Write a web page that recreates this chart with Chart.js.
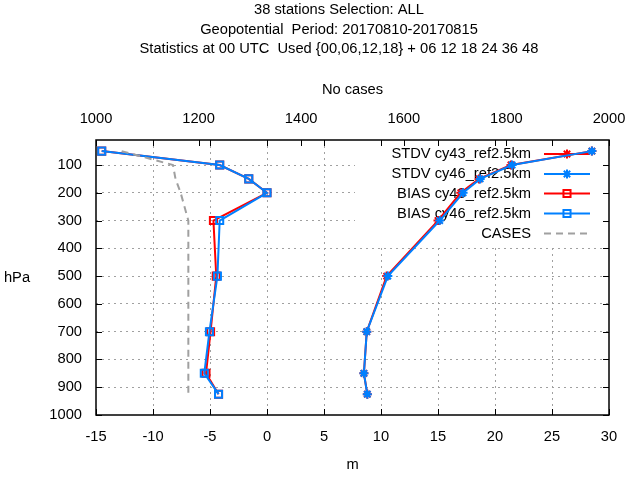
<!DOCTYPE html>
<html>
<head>
<meta charset="utf-8">
<script src="https://cdn.jsdelivr.net/npm/chart.js@4/dist/chart.umd.min.js"></script>
<style>
html,body{margin:0;padding:0;background:#fff;}
#wrap{width:640px;height:480px;position:relative;}
</style>
</head>
<body>
<div id="wrap"><canvas id="c"></canvas></div>
<script>
// ---- data ----
const titleLines = ["38 stations Selection: ALL", "Geopotential  Period: 20170810-20170815", "Statistics at 00 UTC  Used {00,06,12,18} + 06 12 18 24 36 48"];
const levels = [50, 100, 150, 200, 300, 500, 700, 850, 925];
const stdvCy43 = [28.5, 21.4, 18.6, 17.0, 15.0, 10.5, 8.75, 8.5, 8.8];
const stdvCy46 = [28.5, 21.5, 18.7, 17.2, 15.15, 10.6, 8.75, 8.5, 8.8];
const biasCy43 = [-14.5, -4.15, -1.6, 0.0, -4.7, -4.45, -4.95, -5.35, -4.25];
const biasCy46 = [-14.5, -4.15, -1.6, 0.0, -4.15, -4.35, -5.05, -5.5, -4.25];
const cases = [1050, 1150, 1155, 1165, 1180, 1180, 1180, 1180, 1180];
const seriesNames = ["STDV cy43_ref2.5km", "STDV cy46_ref2.5km", "BIAS cy43_ref2.5km", "BIAS cy46_ref2.5km", "CASES"];
const xTicks = [-15, -10, -5, 0, 5, 10, 15, 20, 25, 30];
const x2Ticks = [1000, 1200, 1400, 1600, 1800, 2000];
const yTicks = [100, 200, 300, 400, 500, 600, 700, 800, 900, 1000];

const RED = '#ff0000', BLUE = '#0080ff', GRAY = '#a0a0a0';
const FONT = '"Liberation Sans", Arial, sans-serif';
const FS = 14.7;

function pts(vals){ return vals.map((v,i)=>({x:v, y:levels[i]})); }

const datasets = [
  {label:seriesNames[0], data:pts(stdvCy43), xAxisID:'x', borderColor:RED, backgroundColor:RED, borderWidth:2, pointStyle:'star', pointRadius:4.5, pointBorderWidth:2, order:5},
  {label:seriesNames[1], data:pts(stdvCy46), xAxisID:'x', borderColor:BLUE, backgroundColor:BLUE, borderWidth:2, pointStyle:'star', pointRadius:4.5, pointBorderWidth:2, order:4},
  {label:seriesNames[2], data:pts(biasCy43), xAxisID:'x', borderColor:RED, backgroundColor:'rgba(0,0,0,0)', borderWidth:2, pointStyle:'rect', pointRadius:5, pointBorderWidth:2, order:3},
  {label:seriesNames[3], data:pts(biasCy46), xAxisID:'x', borderColor:BLUE, backgroundColor:'rgba(0,0,0,0)', borderWidth:2, pointStyle:'rect', pointRadius:5, pointBorderWidth:2, order:2},
  {label:seriesNames[4], data:pts(cases), xAxisID:'x2', borderColor:GRAY, backgroundColor:GRAY, borderWidth:2, borderDash:[7,5], pointRadius:0, order:1}
];

const legendPlugin = {
  id:'gpLegend',
  beforeDatasetsDraw(chart){
    const ctx = chart.ctx, a = chart.chartArea;
    ctx.save();
    ctx.fillStyle = '#fff';
    ctx.fillRect(355, a.top + 1, a.right - 355 - 1, 243 - a.top);
    ctx.font = FS + 'px ' + FONT;
    ctx.textAlign = 'right';
    ctx.textBaseline = 'middle';
    const rows = [154, 174, 193.5, 213.5, 233.5];
    datasets.forEach((ds, i) => {
      const y = rows[i];
      ctx.fillStyle = '#000';
      ctx.fillText(ds.label, 531, y);
      ctx.strokeStyle = ds.borderColor;
      ctx.lineWidth = 2;
      ctx.setLineDash(ds.borderDash || []);
      ctx.beginPath(); ctx.moveTo(544, y); ctx.lineTo(590, y); ctx.stroke();
      ctx.setLineDash([]);
      if (ds.pointRadius > 0) {
        ctx.fillStyle = ds.backgroundColor;
        ctx.strokeStyle = ds.borderColor;
        ctx.lineWidth = 2;
        Chart.helpers.drawPoint(ctx, {pointStyle:ds.pointStyle, radius:ds.pointRadius, borderWidth:2}, 567, y);
      }
    });
    ctx.restore();
  }
};

const framePlugin = {
  id:'gpFrame',
  afterDraw(chart){
    const ctx = chart.ctx, a = chart.chartArea, s = chart.scales;
    ctx.save();
    ctx.strokeStyle = '#000';
    ctx.lineWidth = 1;
    const L = 6;
    ctx.beginPath();
    xTicks.forEach(v => { const x = Math.round(s.x.getPixelForValue(v)) + 0.5;
      ctx.moveTo(x, a.bottom); ctx.lineTo(x, a.bottom - L);
      ctx.moveTo(x, a.top); ctx.lineTo(x, a.top + L); });
    x2Ticks.forEach(v => { const x = Math.round(s.x2.getPixelForValue(v)) + 0.5;
      ctx.moveTo(x, a.top); ctx.lineTo(x, a.top + L); });
    yTicks.forEach(v => { const y = Math.round(s.y.getPixelForValue(v)) + 0.5;
      ctx.moveTo(a.left, y); ctx.lineTo(a.left + L, y);
      ctx.moveTo(a.right, y); ctx.lineTo(a.right - L, y); });
    ctx.stroke();
    ctx.lineWidth = 1.5;
    ctx.strokeRect(a.left, a.top, a.right - a.left, a.bottom - a.top);
    // titles
    ctx.fillStyle = '#000';
    ctx.font = FS + 'px ' + FONT;
    ctx.textAlign = 'center';
    ctx.textBaseline = 'middle';
    titleLines.forEach((t, i) => ctx.fillText(t, 339, 10 + i * 19.5));
    const cx = (a.left + a.right) / 2;
    ctx.fillText('No cases', cx, 90);
    ctx.fillText('m', cx, 465);
    ctx.fillText('hPa', 17, (a.top + a.bottom) / 2);
    ctx.restore();
  }
};

const bg = { id:'bg', beforeDraw(chart){ const c = chart.ctx; c.save(); c.fillStyle = '#fff'; c.fillRect(0,0,chart.width,chart.height); c.restore(); } };

const plain = (v) => String(v);

new Chart(document.getElementById('c'), {
  type:'line',
  data:{ datasets },
  plugins:[bg, legendPlugin, framePlugin],
  options:{
    responsive:true, maintainAspectRatio:false, devicePixelRatio:1, animation:false,
    layout:{ padding:{left:0, right:31, top:0, bottom:0} },
    plugins:{ legend:{display:false}, title:{display:false}, tooltip:{enabled:false} },
    elements:{ line:{ tension:0 } },
    scales:{
      x:{ type:'linear', position:'bottom', min:-15, max:30,
          afterBuildTicks(sc){ sc.ticks = xTicks.map(v=>({value:v})); },
          afterFit(sc){ sc.height = 65; },
          grid:{ color:(c)=> (c.tick && (c.tick.value === -15 || c.tick.value === 30)) ? 'rgba(0,0,0,0)' : GRAY, lineWidth:1, drawTicks:false },
          border:{ display:false, dash:[2,4] },
          ticks:{ color:'#000', font:{family:FONT, size:FS}, padding:13, maxRotation:0, autoSkip:false, callback:plain } },
      x2:{ type:'linear', position:'top', min:1000, max:2000,
          afterBuildTicks(sc){ sc.ticks = x2Ticks.map(v=>({value:v})); },
          afterFit(sc){ sc.height = 140; },
          grid:{ display:false, drawTicks:false },
          border:{ display:false },
          ticks:{ color:'#000', font:{family:FONT, size:FS}, padding:12, maxRotation:0, autoSkip:false, callback:plain } },
      y:{ type:'linear', reverse:true, min:10, max:1000,
          afterBuildTicks(sc){ sc.ticks = yTicks.map(v=>({value:v})); },
          afterFit(sc){ sc.width = 96; },
          grid:{ color:(c)=> (c.tick && c.tick.value === 1000) ? 'rgba(0,0,0,0)' : GRAY, lineWidth:1, drawTicks:false },
          border:{ display:false, dash:[2,4] },
          ticks:{ color:'#000', font:{family:FONT, size:FS}, padding:14, autoSkip:false, callback:plain } }
    }
  }
});
</script>
</body>
</html>
